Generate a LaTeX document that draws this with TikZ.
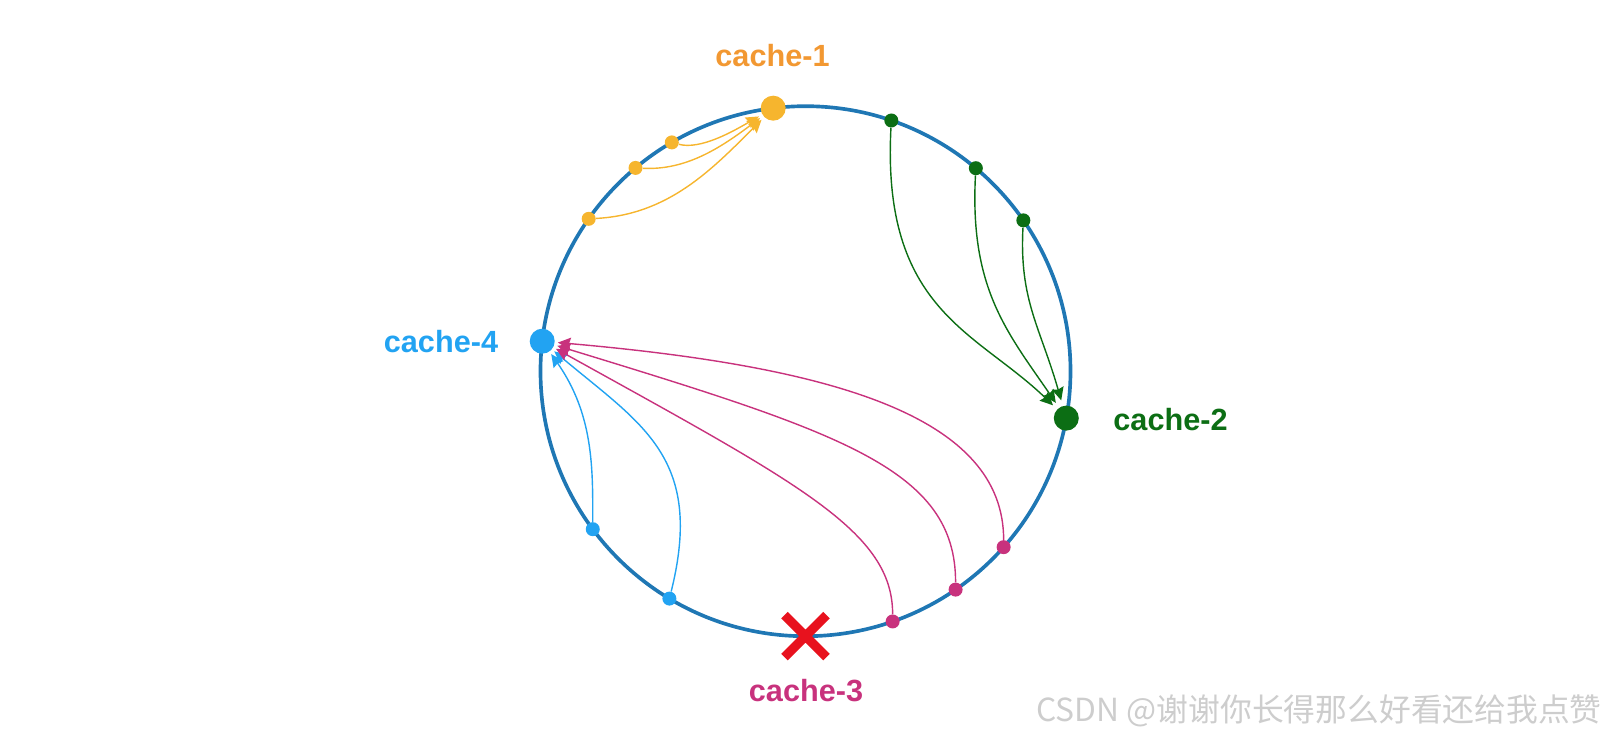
\documentclass[tikz,border=0pt]{standalone}
\usepackage{fontspec}
\setmainfont{Liberation Sans}
\newfontfamily\cjkfont{Noto Sans CJK SC}
\usepackage{tikz}
\usetikzlibrary{arrows.meta,shapes.misc}

\definecolor{ringblue}{RGB}{31,119,180}
\definecolor{dotorange}{RGB}{246,181,46}
\definecolor{txtorange}{RGB}{242,152,50}
\definecolor{darkgreen}{RGB}{12,110,20}
\definecolor{lightblue}{RGB}{34,163,242}
\definecolor{cachepink}{RGB}{200,50,125}
\definecolor{crossred}{RGB}{232,18,30}
\definecolor{markgray}{RGB}{205,205,205}

\begin{document}
\begin{tikzpicture}[x=0.025cm, y=0.025cm,
  smalldot/.style={circle, fill=#1, minimum size=0.35cm, inner sep=0pt},
  hub/.style={circle, fill=#1, minimum size=0.625cm, inner sep=0pt},
  remap/.style={draw=#1, line width=1pt, -{Stealth[length=0.32cm, width=0.3cm, inset=0.04cm]}},
  cachelabel/.style={font=\fontsize{21.8}{26}\selectfont\bfseries, text=#1, inner sep=0pt}]
\useasboundingbox (-805.5,-370.8) rectangle (802.5,371.2);
% hash ring
\draw[ringblue, line width=2.6pt] (0,0) circle[radius=265];

% cache nodes
\node[hub=dotorange, outer sep=0.1cm] (c1) at (97:265) {};
\node[hub=darkgreen, outer sep=0.15cm] (c2) at (-10.2:265) {};
\node[draw=crossred, cross out, line width=0.23cm, minimum size=0.82cm, inner sep=0pt] (c3) at (270:265) {};
\node[hub=lightblue, outer sep=0.08cm] (c4) at (173.5:265) {};

% keys
\node[smalldot=dotorange] (o1) at (120.3:265) {};
\node[smalldot=dotorange] (o2) at (129.9:265) {};
\node[smalldot=dotorange] (o3) at (144.9:265) {};
\node[smalldot=darkgreen] (g1) at (71.1:265) {};
\node[smalldot=darkgreen] (g2) at (50:265) {};
\node[smalldot=darkgreen] (g3) at (34.7:265) {};
\node[smalldot=lightblue] (b1) at (216.6:265) {};
\node[smalldot=lightblue] (b2) at (239.1:265) {};
\node[smalldot=cachepink] (p1) at (289.2:265) {};
\node[smalldot=cachepink] (p2) at (304.5:265) {};
\node[smalldot=cachepink] (p3) at (318.4:265) {};

% key -> cache
\draw[remap=dotorange] (o1) .. controls +(-15:30) and +(-150:45) .. (c1);
\draw[remap=dotorange] (o2) .. controls +(-3:50) and +(-143:67) .. (c1);
\draw[remap=dotorange] (o3) .. controls +(3:80) and +(-135:87) .. (c1);
\draw[remap=darkgreen] (g1) .. controls +(-93:190) and +(136:125) .. (c2);
\draw[remap=darkgreen] (g2) .. controls +(-93:120) and +(124.5:105) .. (c2);
\draw[remap=darkgreen] (g3) .. controls +(-93:80) and +(106:95) .. (c2);
\draw[remap=lightblue] (b1) .. controls +(90:60) and +(-55:90) .. (c4);
\draw[remap=lightblue] (b2) .. controls +(76:145) and +(-40:130) .. (c4);
% cache-3 removed, its keys move on
\draw[remap=cachepink] (p3) .. controls +(90:130) and +(-5:295) .. (c4);
\draw[remap=cachepink] (p2) .. controls +(90:120) and +(-17:315) .. (c4);
\draw[remap=cachepink] (p1) .. controls +(90:90) and +(-29:295) .. (c4);

% labels
\node[cachelabel=txtorange] (l1) at (-33,316) {cache-1};
\node[cachelabel=darkgreen] (l2) at (365,-48) {cache-2};
\node[cachelabel=cachepink] (l3) at (0.5,-319) {cache-3};
\node[cachelabel=lightblue] (l4) at (-364.5,29.5) {cache-4};
\node[anchor=east, text=markgray, font=\cjkfont\fontsize{22.6}{27}\selectfont, inner sep=0pt] (mark) at (796.5,-340) {CSDN @谢谢你长得那么好看还给我点赞};
\end{tikzpicture}
\end{document}
